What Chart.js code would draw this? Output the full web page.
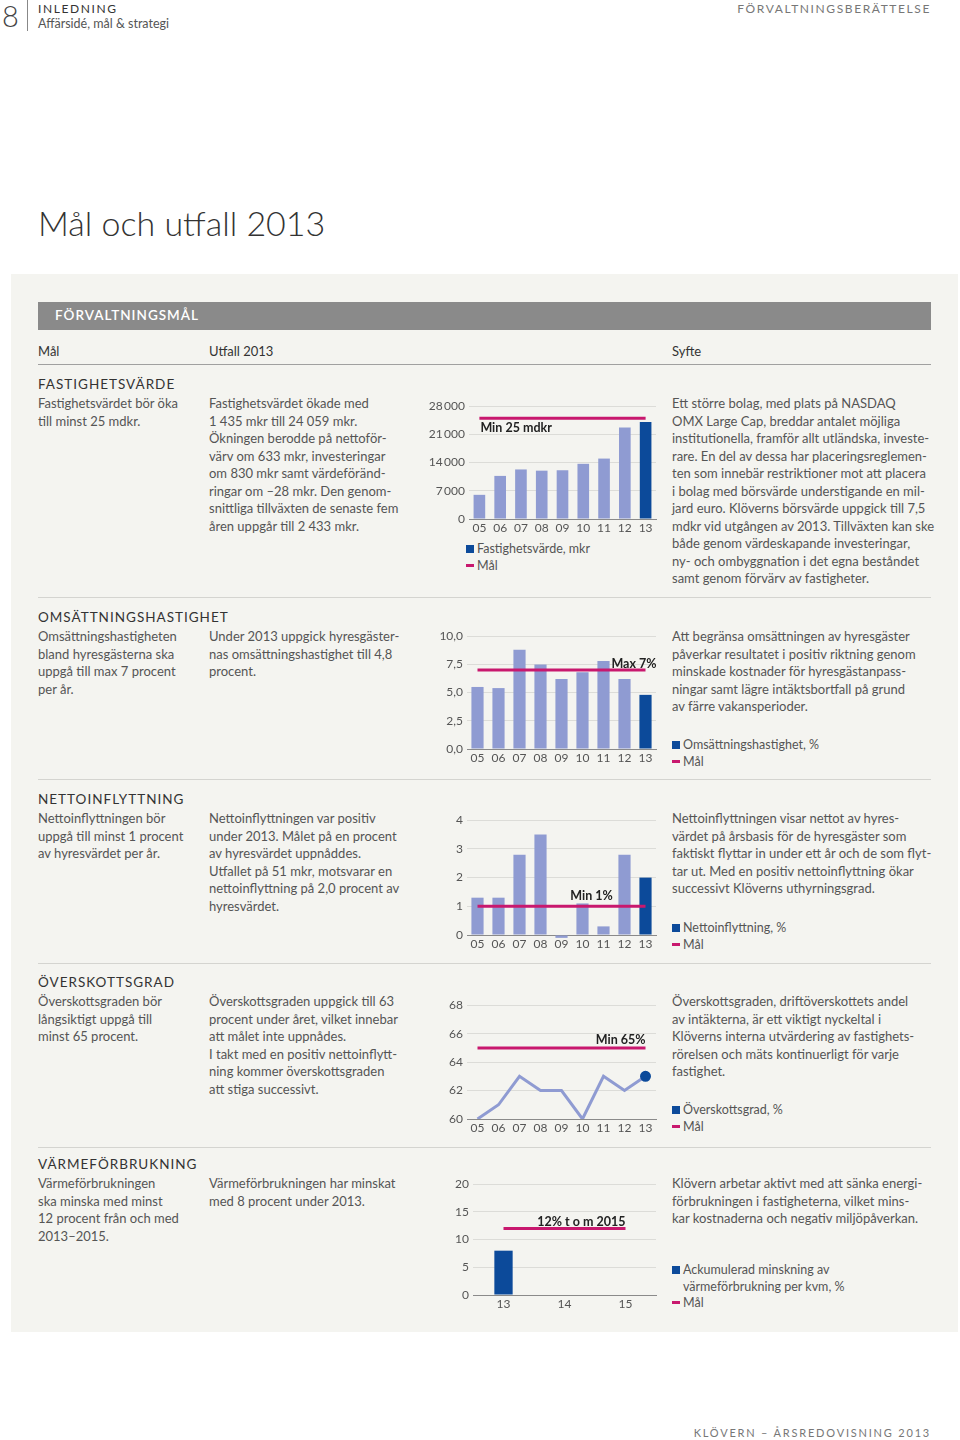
<!DOCTYPE html>
<html lang="sv">
<head>
<meta charset="utf-8">
<script src="https://cdn.jsdelivr.net/npm/chart.js@4.4.1/dist/chart.umd.min.js"></script>
<style>
  body { margin: 0; width: 960px; height: 1440px; position: relative; background: #fff;
         font-family: Lato, "Open Sans", sans-serif; color: #555; overflow: hidden; }
  .abs { position: absolute; white-space: nowrap; }
  .txt { position: absolute; font-size: 13px; line-height: 17.5px; white-space: nowrap; color: #555; }
  .head { position: absolute; font-size: 13.5px; letter-spacing: 1px; color: #333; white-space: nowrap; }
  .rule { position: absolute; left: 38px; width: 893px; height: 1px; background: #d4d4d0; }
  .leg { position: absolute; font-size: 12.5px; line-height: 16.5px; color: #555; white-space: nowrap; }
  .sq { display: inline-block; width: 8px; height: 8px; background: #0c4a9a; margin-right: 3px; }
  .ds { display: inline-block; width: 8px; height: 3px; background: #c8186e; margin-right: 3px; vertical-align: 3px; }
  canvas { position: absolute; }
</style>
</head>
<body>

<div class="abs" style="left:2px;top:1px;font-size:29px;line-height:29px;font-weight:300;color:#444;">8</div>
<div class="abs" style="left:27px;top:0;width:1px;height:31px;background:#888;"></div>
<div class="abs" style="left:38px;top:1px;font-size:12px;letter-spacing:1.6px;color:#333;">INLEDNING</div>
<div class="abs" style="left:38px;top:16px;font-size:12.5px;color:#555;">Affärsidé, mål &amp; strategi</div>
<div class="abs" style="right:29px;top:1px;font-size:12px;letter-spacing:1.6px;color:#777;">FÖRVALTNINGSBERÄTTELSE</div>

<div class="abs" style="left:38px;top:202px;font-size:34px;font-weight:300;color:#333;">Mål och utfall 2013</div>

<div class="abs" style="left:11px;top:274px;width:947px;height:1058px;background:#f4f4f0;"></div>
<div class="abs" style="left:38px;top:302px;width:893px;height:28px;background:#8a8a8a;"></div>
<div class="abs" style="left:55px;top:307px;font-size:13.5px;letter-spacing:1px;color:#fff;font-weight:600;">FÖRVALTNINGSMÅL</div>

<div class="abs" style="left:38px;top:343px;font-size:13px;color:#333;">Mål</div>
<div class="abs" style="left:209px;top:343px;font-size:13px;color:#333;">Utfall 2013</div>
<div class="abs" style="left:672px;top:343px;font-size:13px;color:#333;">Syfte</div>
<div class="rule" style="top:364px;background:#a0a0a0;"></div>
<div class="rule" style="top:597px;"></div>
<div class="rule" style="top:779px;"></div>
<div class="rule" style="top:963px;"></div>
<div class="rule" style="top:1147px;"></div>

<!-- Fastighetsvärde -->
<div class="head" style="left:38px;top:376px;">FASTIGHETSVÄRDE</div>
<div class="txt" style="left:38px;top:395px;">Fastighetsvärdet bör öka<br>till minst 25 mdkr.</div>
<div class="txt" style="left:209px;top:395px;">Fastighetsvärdet ökade med<br>1 435 mkr till 24 059 mkr.<br>Ökningen berodde på nettoför-<br>värv om 633 mkr, investeringar<br>om 830 mkr samt värdeföränd-<br>ringar om –28 mkr. Den genom-<br>snittliga tillväxten de senaste fem<br>åren uppgår till 2 433 mkr.</div>
<div class="txt" style="left:672px;top:395px;">Ett större bolag, med plats på NASDAQ<br>OMX Large Cap, breddar antalet möjliga<br>institutionella, framför allt utländska, investe-<br>rare. En del av dessa har placeringsreglemen-<br>ten som innebär restriktioner mot att placera<br>i bolag med börsvärde understigande en mil-<br>jard euro. Klöverns börsvärde uppgick till 7,5<br>mdkr vid utgången av 2013. Tillväxten kan ske<br>både genom värdeskapande investeringar,<br>ny- och ombyggnation i det egna beståndet<br>samt genom förvärv av fastigheter.</div>
<div class="leg" style="left:466px;top:541px;"><span class="sq"></span>Fastighetsvärde, mkr<br><span class="ds"></span>Mål</div>

<!-- Omsättningshastighet -->
<div class="head" style="left:38px;top:609px;">OMSÄTTNINGSHASTIGHET</div>
<div class="txt" style="left:38px;top:628px;">Omsättningshastigheten<br>bland hyresgästerna ska<br>uppgå till max 7 procent<br>per år.</div>
<div class="txt" style="left:209px;top:628px;">Under 2013 uppgick hyresgäster-<br>nas omsättningshastighet till 4,8<br>procent.</div>
<div class="txt" style="left:672px;top:628px;">Att begränsa omsättningen av hyresgäster<br>påverkar resultatet i positiv riktning genom<br>minskade kostnader för hyresgästanpass-<br>ningar samt lägre intäktsbortfall på grund<br>av färre vakansperioder.</div>
<div class="leg" style="left:672px;top:737px;"><span class="sq"></span>Omsättningshastighet, %<br><span class="ds"></span>Mål</div>

<!-- Nettoinflyttning -->
<div class="head" style="left:38px;top:791px;">NETTOINFLYTTNING</div>
<div class="txt" style="left:38px;top:810px;">Nettoinflyttningen bör<br>uppgå till minst 1 procent<br>av hyresvärdet per år.</div>
<div class="txt" style="left:209px;top:810px;">Nettoinflyttningen var positiv<br>under 2013. Målet på en procent<br>av hyresvärdet uppnåddes.<br>Utfallet på 51 mkr, motsvarar en<br>nettoinflyttning på 2,0 procent av<br>hyresvärdet.</div>
<div class="txt" style="left:672px;top:810px;">Nettoinflyttningen visar nettot av hyres-<br>värdet på årsbasis för de hyresgäster som<br>faktiskt flyttar in under ett år och de som flyt-<br>tar ut. Med en positiv nettoinflyttning ökar<br>successivt Klöverns uthyrningsgrad.</div>
<div class="leg" style="left:672px;top:920px;"><span class="sq"></span>Nettoinflyttning, %<br><span class="ds"></span>Mål</div>

<!-- Överskottsgrad -->
<div class="head" style="left:38px;top:974px;">ÖVERSKOTTSGRAD</div>
<div class="txt" style="left:38px;top:993px;">Överskottsgraden bör<br>långsiktigt uppgå till<br>minst 65 procent.</div>
<div class="txt" style="left:209px;top:993px;">Överskottsgraden uppgick till 63<br>procent under året, vilket innebar<br>att målet inte uppnådes.<br>I takt med en positiv nettoinflytt-<br>ning kommer överskottsgraden<br>att stiga successivt.</div>
<div class="txt" style="left:672px;top:993px;">Överskottsgraden, driftöverskottets andel<br>av intäkterna, är ett viktigt nyckeltal i<br>Klöverns interna utvärdering av fastighets-<br>rörelsen och mäts kontinuerligt för varje<br>fastighet.</div>
<div class="leg" style="left:672px;top:1102px;"><span class="sq"></span>Överskottsgrad, %<br><span class="ds"></span>Mål</div>

<!-- Värmeförbrukning -->
<div class="head" style="left:38px;top:1156px;">VÄRMEFÖRBRUKNING</div>
<div class="txt" style="left:38px;top:1175px;">Värmeförbrukningen<br>ska minska med minst<br>12 procent från och med<br>2013–2015.</div>
<div class="txt" style="left:209px;top:1175px;">Värmeförbrukningen har minskat<br>med 8 procent under 2013.</div>
<div class="txt" style="left:672px;top:1175px;">Klövern arbetar aktivt med att sänka energi-<br>förbrukningen i fastigheterna, vilket mins-<br>kar kostnaderna och negativ miljöpåverkan.</div>
<div class="leg" style="left:672px;top:1262px;"><span class="sq"></span>Ackumulerad minskning av<br><span style="display:inline-block;width:11px;"></span>värmeförbrukning per kvm, %<br><span class="ds"></span>Mål</div>

<div class="abs" style="right:29px;top:1426px;font-size:11px;letter-spacing:1.8px;color:#777;">KLÖVERN – ÅRSREDOVISNING 2013</div>

<script>
// values
const years = ['05', '06', '07', '08', '09', '10', '11', '12', '13'];
const fastighetsvarde = [6000, 10700, 12300, 12000, 12100, 13700, 15000, 22700, 24059];
const fastighetsMal = 25000;
const fastighetsTicks = [0, 7000, 14000, 21000, 28000];

const omsattning = [5.5, 5.4, 8.8, 7.5, 6.2, 6.8, 7.8, 6.2, 4.8];
const omsattningMal = 7;
const omsattningTicks = [0, 2.5, 5, 7.5, 10];

const nettoinflyttning = [1.3, 1.3, 2.8, 3.5, -0.1, 1.1, 0.3, 2.8, 2.0];
const nettoMal = 1;
const nettoTicks = [0, 1, 2, 3, 4];

const overskottsgrad = [60, 61, 63, 62, 62, 60, 63, 62, 63];
const overskottMal = 65;
const overskottTicks = [60, 62, 64, 66, 68];

const varmeYears = ['13', '14', '15'];
const varme = [8, null, null];
const varmeMal = 12;
const varmeTicks = [0, 5, 10, 15, 20];

const LIGHT = '#8f9bd2';
const DARK = '#0c4a9a';
const GOAL = '#c8186e';
const GRID = '#dcdcd8';

const ML = 50, MT = 10, MR = 8, MB = 22;

// draws the bold goal text next to the target line
const goalLabel = {
  id: 'goalLabel',
  afterDatasetsDraw(chart, args, opts) {
    if (!opts.text) return;
    const ctx = chart.ctx;
    const x = chart.scales.x.getPixelForValue(opts.index) + (opts.dx || 0);
    const y = chart.scales.y.getPixelForValue(opts.value) + (opts.dy || 0);
    ctx.save();
    ctx.font = 'bold 12.5px Lato, sans-serif';
    ctx.fillStyle = '#222';
    ctx.textAlign = opts.align || 'left';
    ctx.textBaseline = 'middle';
    ctx.fillText(opts.text, x, y);
    ctx.restore();
  }
};

function fmtComma(v) {
  return v.toFixed(1).replace('.', ',');
}
function fmtSpace(v) {
  return v >= 1000 ? Math.floor(v / 1000) + '\u2009' + String(v % 1000).padStart(3, '0') : String(v);
}

function makeChart(box, type, labels, datasets, yTicks, fmt, label) {
  const c = document.createElement('canvas');
  const w = Math.round(box.R - box.L) + ML + MR;
  const h = Math.round(box.B - box.T) + MT + MB;
  c.width = w;
  c.height = h;
  c.style.left = Math.round(box.L - ML) + 'px';
  c.style.top = Math.round(box.T - MT) + 'px';
  document.body.appendChild(c);
  return new Chart(c.getContext('2d'), {
    type: type,
    data: { labels: labels, datasets: datasets },
    plugins: [goalLabel],
    options: {
      responsive: false,
      animation: false,
      devicePixelRatio: 1,
      layout: { autoPadding: false, padding: { top: MT, right: MR, left: 0, bottom: 0 } },
      plugins: { legend: { display: false }, tooltip: { enabled: false }, goalLabel: label },
      scales: {
        x: {
          offset: true,
          grid: { display: false, drawTicks: false },
          border: { display: true, color: '#8a8a8a', width: 1 },
          ticks: { color: '#555', font: { family: 'Lato', size: 12 }, padding: 2, maxRotation: 0 },
          afterFit: s => { s.height = MB; }
        },
        y: {
          min: yTicks[0],
          max: yTicks[yTicks.length - 1],
          afterBuildTicks: s => { s.ticks = yTicks.map(v => ({ value: v })); },
          grid: { color: GRID, lineWidth: 1, drawTicks: false },
          border: { display: false },
          ticks: { color: '#555', font: { family: 'Lato', size: 12 }, padding: 4, callback: v => fmt(v) },
          afterFit: s => { s.width = ML; }
        }
      }
    }
  });
}

function barColors(arr) {
  return arr.map((v, i) => i === arr.length - 1 ? DARK : LIGHT);
}
function goalLine(labels, value) {
  return {
    type: 'line', data: labels.map(() => value), borderColor: GOAL, borderWidth: 3,
    pointRadius: 0, fill: false, order: 0
  };
}
function bars(data, colors, pct) {
  return {
    type: 'bar', data: data, backgroundColor: colors, borderWidth: 0,
    categoryPercentage: 1, barPercentage: pct, order: 1, clip: false
  };
}

makeChart({ L: 468.6, R: 655.4, T: 405.3, B: 519.3 }, 'bar', years,
  [goalLine(years, fastighetsMal), bars(fastighetsvarde, barColors(fastighetsvarde), 0.56)],
  fastighetsTicks, fmtSpace, { text: 'Min 25 mdkr', index: 0, value: fastighetsMal, align: 'left', dx: 1, dy: 10 });

makeChart({ L: 466.5, R: 655.5, T: 635.3, B: 749.3 }, 'bar', years,
  [goalLine(years, omsattningMal), bars(omsattning, barColors(omsattning), 0.58)],
  omsattningTicks, fmtComma, { text: 'Max 7%', index: 8, value: omsattningMal, align: 'right', dx: 11, dy: -6 });

makeChart({ L: 466.5, R: 655.5, T: 818.7, B: 934.3 }, 'bar', years,
  [goalLine(years, nettoMal), bars(nettoinflyttning, barColors(nettoinflyttning), 0.58)],
  nettoTicks, v => String(v), { text: 'Min 1%', index: 5, value: nettoMal, align: 'center', dx: 9, dy: -10 });

makeChart({ L: 466.5, R: 655.5, T: 1004.3, B: 1119.3 }, 'line', years,
  [goalLine(years, overskottMal), {
    type: 'line', data: overskottsgrad, borderColor: LIGHT, borderWidth: 3, fill: false, order: 1,
    pointRadius: overskottsgrad.map((v, i) => i === overskottsgrad.length - 1 ? 4 : 0),
    pointBackgroundColor: DARK, pointBorderColor: DARK, tension: 0
  }],
  overskottTicks, v => String(v), { text: 'Min 65%', index: 8, value: overskottMal, align: 'right', dx: 0, dy: -8 });

makeChart({ L: 472.5, R: 655.5, T: 1182.7, B: 1295 }, 'bar', varmeYears,
  [goalLine(varmeYears, varmeMal), bars(varme, DARK, 0.3)],
  varmeTicks, v => String(v), { text: '12% t o m 2015', index: 2, value: varmeMal, align: 'right', dx: 0, dy: -7 });
</script>
</body>
</html>
